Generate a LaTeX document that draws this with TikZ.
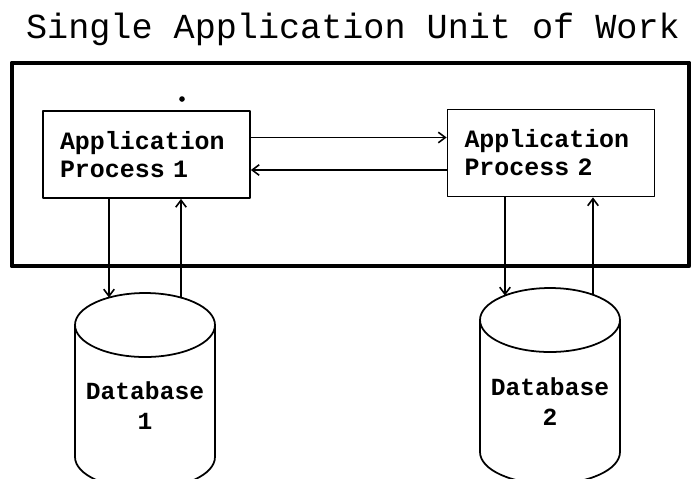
\documentclass[tikz,border=0pt]{standalone}
\usepackage{fontspec}
\setmonofont{Liberation Mono}
\usetikzlibrary{arrows.meta}

\begin{document}
\begin{tikzpicture}[x=0.02cm, y=-0.02cm, >={Straight Barb[length=4pt,width=6pt]}, line join=round, line cap=round,
    procbox/.style={draw, line width=1pt, minimum width=4.14cm, minimum height=1.74cm, inner sep=0pt,
        text width=3.46cm, align=left, font=\ttfamily\bfseries\fontsize{14.2}{16}\selectfont},
    dbtext/.style={align=center, font=\ttfamily\bfseries\fontsize{14}{17}\selectfont},
    link/.style={->, line width=0.9pt}]
\useasboundingbox (0,0) rectangle (693,478);
\node[font=\ttfamily\fontsize{20}{24}\selectfont] (title) at (353,29) {Single Application Unit of Work};
\draw[line width=2.8pt] (12,63) rectangle (689,266);
\fill (182,99) circle (1.6pt);
% processes
\node[procbox] (p1) at (146.5,154.5) {Application\\Process 1};
\node[procbox] (p2) at (551,153) {Application\\Process 2};
% databases
\foreach \cx/\cy in {145/325, 550/320} {
    \draw[line width=1pt] (\cx,\cy) ellipse [x radius=1.4cm, y radius=0.64cm];
    \draw[line width=1pt] (\cx-70,\cy) -- (\cx-70,\cy+132)
        arc[start angle=180, end angle=360, x radius=1.4cm, y radius=0.64cm] -- (\cx+70,\cy);
}
\node[dbtext] (db1) at (145,406) {Database\\1};
\node[dbtext] (db2) at (550,402) {Database\\2};
% links between processes
\path ([yshift=0.34cm]p1.east) coordinate (r1) ([yshift=-0.34cm]p2.west) coordinate (r2);
\draw[link] (r1) -- (r1 -| p2.west);
\draw[link] (r2) -- (r2 -| p1.east);
% links to databases
\coordinate (d1in) at (109,297.5);
\coordinate (d1out) at (181,297.5);
\coordinate (d2in) at (505,295.5);
\coordinate (d2out) at (593,294.7);
\draw[link] (p1.south -| d1in) -- (d1in);
\draw[link] (d1out) -- (d1out |- p1.south);
\draw[link] (p2.south -| d2in) -- (d2in);
\draw[link] (d2out) -- (d2out |- p2.south);
\end{tikzpicture}
\end{document}
